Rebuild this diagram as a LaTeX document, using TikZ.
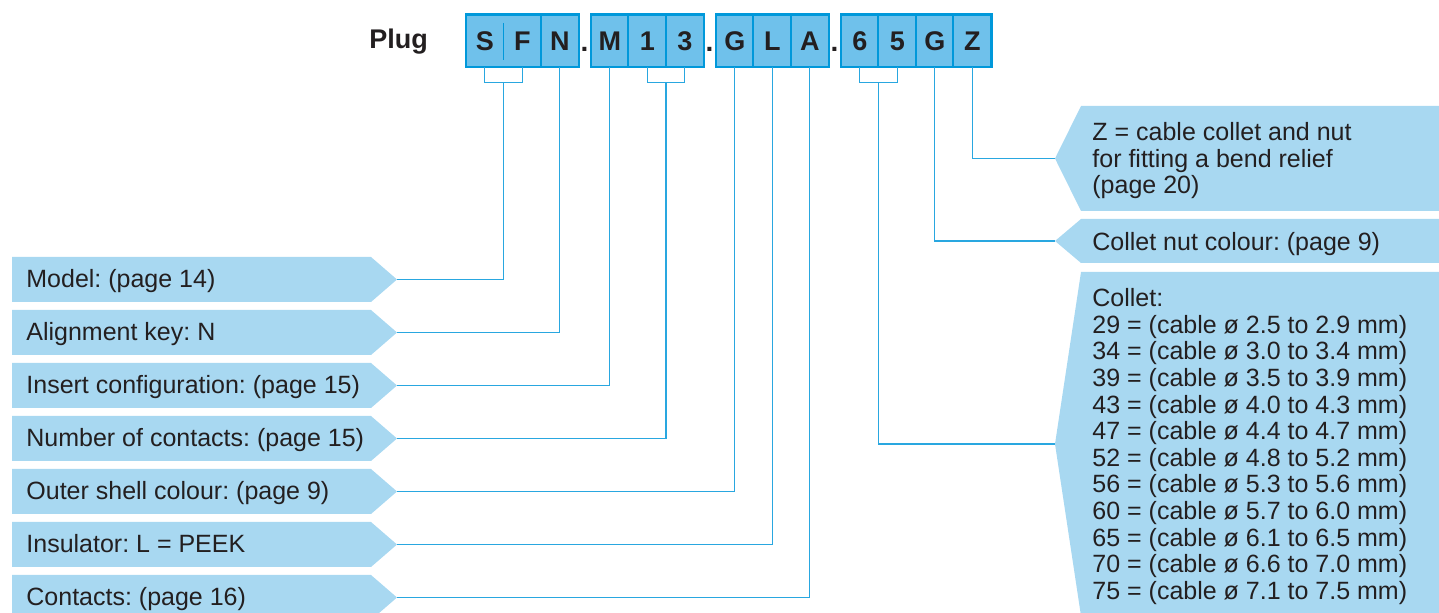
\documentclass[tikz,border=0pt]{standalone}
\usepackage{fontspec}
\setmainfont{Liberation Sans}
\usetikzlibrary{calc}
\definecolor{cellfill}{RGB}{111,193,235}
\definecolor{frameblue}{RGB}{0,152,218}
\definecolor{labfill}{RGB}{168,216,241}
\definecolor{connblue}{RGB}{41,167,224}
\definecolor{txt}{RGB}{35,31,32}
\frenchspacing
\newcommand\leftlabel[3]{%
  \fill[labfill] (12,#2) -- (371,#2) -- (397,#2+22.5) -- (371,#2+45) -- (12,#2+45) -- cycle;
  \coordinate (#1) at (397,#2+22.5);
  \node[labtext, anchor=base west] (#1-t) at (26,#2+30.5) {#3};}
\begin{document}
\begin{tikzpicture}[x=0.5pt,y=-0.5pt,
  cell/.style={minimum width=18.75pt, minimum height=26pt, inner sep=0pt, fill=cellfill,
    font=\fontsize{13.5pt}{15pt}\selectfont\bfseries, text=txt},
  frame/.style={draw=frameblue, line width=1.1pt},
  divider/.style={draw=frameblue, line width=0.8pt},
  conn/.style={draw=connblue, line width=0.7pt},
  labtext/.style={inner sep=0pt, text=txt, font=\fontsize{12.5pt}{13.3pt}\selectfont\frenchspacing},
  dotsep/.style={inner sep=0pt, text=txt, font=\fontsize{14pt}{15pt}\selectfont\bfseries}]
\useasboundingbox (0,0) rectangle (1439,613);
% left labels
\leftlabel{model}{257}{Model: (page 14)}
\leftlabel{align}{310}{Alignment key: N}
\leftlabel{insert}{363}{Insert configuration: (page 15)}
\leftlabel{number}{416}{Number of contacts: (page 15)}
\leftlabel{outer}{469}{Outer shell colour: (page 9)}
\leftlabel{insul}{522}{Insulator: L = PEEK}
\leftlabel{contacts}{575}{Contacts: (page 16)}
% right labels
\fill[labfill] (1081,106) -- (1439,106) -- (1439,211) -- (1081,211) -- (1055,158.5) -- cycle;
\coordinate (zlab) at (1055,158.5);
\node[labtext, anchor=base west] (zlab-t) at (1092,140.7)
  {\begin{tabular}[t]{@{}l@{}}Z = cable collet and nut\\for fitting a bend relief\\(page 20)\end{tabular}};
\fill[labfill] (1081,219) -- (1439,219) -- (1439,263) -- (1081,263) -- (1055,241) -- cycle;
\coordinate (nutlab) at (1055,241);
\node[labtext, anchor=base west] (nutlab-t) at (1092,250.7) {Collet nut colour: (page 9)};
\fill[labfill] (1081,272) -- (1439,272) -- (1439,616) -- (1081,616) -- (1055,444) -- cycle;
\coordinate (colletlab) at (1055,444);
\node[labtext, anchor=base west] (colletlab-t) at (1092,306.7)
  {\begin{tabular}[t]{@{}l@{}}Collet:\\
  29 = (cable ø 2.5 to 2.9 mm)\\
  34 = (cable ø 3.0 to 3.4 mm)\\
  39 = (cable ø 3.5 to 3.9 mm)\\
  43 = (cable ø 4.0 to 4.3 mm)\\
  47 = (cable ø 4.4 to 4.7 mm)\\
  52 = (cable ø 4.8 to 5.2 mm)\\
  56 = (cable ø 5.3 to 5.6 mm)\\
  60 = (cable ø 5.7 to 6.0 mm)\\
  65 = (cable ø 6.1 to 6.5 mm)\\
  70 = (cable ø 6.6 to 7.0 mm)\\
  75 = (cable ø 7.1 to 7.5 mm)\end{tabular}};
% top code
\node[inner sep=0pt, text=txt, font=\fontsize{13.5pt}{15pt}\selectfont\bfseries, anchor=base west] (plug) at (369,49) {Plug};
\node[cell] (c1) at (484.75,41) {S};
\node[cell] (c2) at (522.25,41) {F};
\node[cell] (c3) at (559.75,41) {N};
\node[cell] (c4) at (609.75,41) {M};
\node[cell] (c5) at (647.25,41) {1};
\node[cell] (c6) at (684.75,41) {3};
\node[cell] (c7) at (734.75,41) {G};
\node[cell] (c8) at (772.25,41) {L};
\node[cell] (c9) at (809.75,41) {A};
\node[cell] (c10) at (859.75,41) {6};
\node[cell] (c11) at (897.25,41) {5};
\node[cell] (c12) at (934.75,41) {G};
\node[cell] (c13) at (972.25,41) {Z};
\node[dotsep, anchor=base] (d1) at (584.5,51.5) {.};
\node[dotsep, anchor=base] (d2) at (709.5,51.5) {.};
\node[dotsep, anchor=base] (d3) at (834.5,51.5) {.};
% frames
\draw[frame] (c1.north west) rectangle (c3.south east);
\draw[frame] (c3.north west) -- (c3.south west);
\draw[divider] (503.5,23) -- (503.5,60);
\draw[frame] (c4.north west) rectangle (c6.south east);
\draw[frame] (c5.north west) -- (c5.south west);
\draw[frame] (c6.north west) -- (c6.south west);
\draw[frame] (c7.north west) rectangle (c9.south east);
\draw[frame] (c8.north west) -- (c8.south west);
\draw[frame] (c9.north west) -- (c9.south west);
\draw[frame] (c10.north west) rectangle (c13.south east);
\draw[frame] (c11.north west) -- (c11.south west);
\draw[frame] (c12.north west) -- (c12.south west);
\draw[frame] (c13.north west) -- (c13.south west);
% connectors
\coordinate (b1) at ($(c1.south)!0.5!(c2.south)+(0,15)$);
\coordinate (b2) at ($(c5.south)!0.5!(c6.south)+(0,15)$);
\coordinate (b3) at ($(c10.south)!0.5!(c11.south)+(0,15)$);
\draw[conn] (c1.south) -- ++(0,15) -| (c2.south);
\draw[conn] (b1) |- (model);
\draw[conn] (c3.south) |- (align);
\draw[conn] (c4.south) |- (insert);
\draw[conn] (c5.south) -- ++(0,15) -| (c6.south);
\draw[conn] (b2) |- (number);
\draw[conn] (c7.south) |- (outer);
\draw[conn] (c8.south) |- (insul);
\draw[conn] (c9.south) |- (contacts);
\draw[conn] (c10.south) -- ++(0,15) -| (c11.south);
\draw[conn] (b3) |- (colletlab);
\draw[conn] (c12.south) |- (nutlab);
\draw[conn] (c13.south) |- (zlab);
\end{tikzpicture}
\end{document}
